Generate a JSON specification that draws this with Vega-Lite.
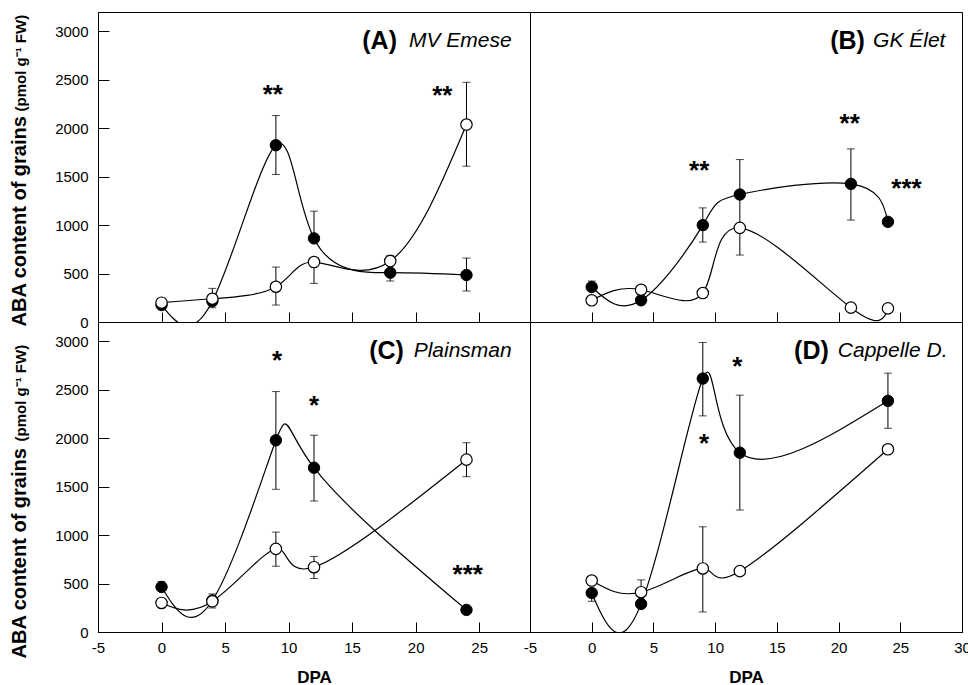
{
  "$schema": "https://vega.github.io/schema/vega-lite/v6.json",
  "background": "white",
  "padding": {"left": 8, "top": 11, "right": 0, "bottom": 0},
  "data": {"values": [
    {"kind":"p","panel":"A","s":"f","dpa":0,"aba":175},
    {"kind":"p","panel":"A","s":"f","dpa":4,"aba":215},
    {"kind":"p","panel":"A","s":"f","dpa":9,"aba":1825},
    {"kind":"p","panel":"A","s":"f","dpa":12,"aba":863},
    {"kind":"p","panel":"A","s":"f","dpa":18,"aba":509},
    {"kind":"p","panel":"A","s":"f","dpa":24,"aba":485},
    {"kind":"p","panel":"A","s":"o","dpa":0,"aba":199},
    {"kind":"p","panel":"A","s":"o","dpa":4,"aba":240},
    {"kind":"p","panel":"A","s":"o","dpa":9,"aba":364},
    {"kind":"p","panel":"A","s":"o","dpa":12,"aba":619},
    {"kind":"p","panel":"A","s":"o","dpa":18,"aba":629},
    {"kind":"p","panel":"A","s":"o","dpa":24,"aba":2038},
    {"kind":"p","panel":"B","s":"f","dpa":0,"aba":361},
    {"kind":"p","panel":"B","s":"f","dpa":4,"aba":224},
    {"kind":"p","panel":"B","s":"f","dpa":9,"aba":1000},
    {"kind":"p","panel":"B","s":"f","dpa":12,"aba":1316},
    {"kind":"p","panel":"B","s":"f","dpa":21,"aba":1426},
    {"kind":"p","panel":"B","s":"f","dpa":24,"aba":1034},
    {"kind":"p","panel":"B","s":"o","dpa":0,"aba":224},
    {"kind":"p","panel":"B","s":"o","dpa":4,"aba":333},
    {"kind":"p","panel":"B","s":"o","dpa":9,"aba":299},
    {"kind":"p","panel":"B","s":"o","dpa":12,"aba":972},
    {"kind":"p","panel":"B","s":"o","dpa":21,"aba":148},
    {"kind":"p","panel":"B","s":"o","dpa":24,"aba":141},
    {"kind":"p","panel":"C","s":"f","dpa":0,"aba":465},
    {"kind":"p","panel":"C","s":"f","dpa":4,"aba":325},
    {"kind":"p","panel":"C","s":"f","dpa":9,"aba":1979},
    {"kind":"p","panel":"C","s":"f","dpa":12,"aba":1696},
    {"kind":"p","panel":"C","s":"f","dpa":24,"aba":228},
    {"kind":"p","panel":"C","s":"o","dpa":0,"aba":300},
    {"kind":"p","panel":"C","s":"o","dpa":4,"aba":317},
    {"kind":"p","panel":"C","s":"o","dpa":9,"aba":858},
    {"kind":"p","panel":"C","s":"o","dpa":12,"aba":669},
    {"kind":"p","panel":"C","s":"o","dpa":24,"aba":1779},
    {"kind":"p","panel":"D","s":"f","dpa":0,"aba":403},
    {"kind":"p","panel":"D","s":"f","dpa":4,"aba":290},
    {"kind":"p","panel":"D","s":"f","dpa":9,"aba":2616},
    {"kind":"p","panel":"D","s":"f","dpa":12,"aba":1851},
    {"kind":"p","panel":"D","s":"f","dpa":24,"aba":2386},
    {"kind":"p","panel":"D","s":"o","dpa":0,"aba":531},
    {"kind":"p","panel":"D","s":"o","dpa":4,"aba":411},
    {"kind":"p","panel":"D","s":"o","dpa":9,"aba":656},
    {"kind":"p","panel":"D","s":"o","dpa":12,"aba":628},
    {"kind":"p","panel":"D","s":"o","dpa":24,"aba":1886},

    {"kind":"e","panel":"A","dpa":4,"aba":147,"hi":347},
    {"kind":"e","panel":"A","dpa":9,"aba":1523,"hi":2131},
    {"kind":"e","panel":"A","dpa":9,"aba":175,"hi":567},
    {"kind":"e","panel":"A","dpa":12,"aba":863,"hi":1144},
    {"kind":"e","panel":"A","dpa":12,"aba":399,"hi":619},
    {"kind":"e","panel":"A","dpa":18,"aba":423,"hi":509},
    {"kind":"e","panel":"A","dpa":18,"aba":629,"hi":688},
    {"kind":"e","panel":"A","dpa":24,"aba":320,"hi":660},
    {"kind":"e","panel":"A","dpa":24,"aba":1608,"hi":2474},
    {"kind":"e","panel":"B","dpa":0,"aba":361,"hi":423},
    {"kind":"e","panel":"B","dpa":9,"aba":825,"hi":1178},
    {"kind":"e","panel":"B","dpa":12,"aba":1000,"hi":1677},
    {"kind":"e","panel":"B","dpa":12,"aba":691,"hi":972},
    {"kind":"e","panel":"B","dpa":21,"aba":1052,"hi":1787},
    {"kind":"e","panel":"C","dpa":0,"aba":465,"hi":520},
    {"kind":"e","panel":"C","dpa":4,"aba":248,"hi":393},
    {"kind":"e","panel":"C","dpa":9,"aba":1473,"hi":2482},
    {"kind":"e","panel":"C","dpa":9,"aba":679,"hi":1031},
    {"kind":"e","panel":"C","dpa":12,"aba":1352,"hi":2031},
    {"kind":"e","panel":"C","dpa":12,"aba":552,"hi":780},
    {"kind":"e","panel":"C","dpa":24,"aba":1603,"hi":1954},
    {"kind":"e","panel":"D","dpa":0,"aba":317,"hi":403},
    {"kind":"e","panel":"D","dpa":4,"aba":411,"hi":538},
    {"kind":"e","panel":"D","dpa":9,"aba":2231,"hi":2989},
    {"kind":"e","panel":"D","dpa":9,"aba":207,"hi":1086},
    {"kind":"e","panel":"D","dpa":12,"aba":1259,"hi":2445},
    {"kind":"e","panel":"D","dpa":24,"aba":2103,"hi":2672},

    {"kind":"c","panel":"A","dpa":4,"aba":147},
    {"kind":"c","panel":"A","dpa":4,"aba":347},
    {"kind":"c","panel":"A","dpa":9,"aba":1523},
    {"kind":"c","panel":"A","dpa":9,"aba":2131},
    {"kind":"c","panel":"A","dpa":9,"aba":175},
    {"kind":"c","panel":"A","dpa":9,"aba":567},
    {"kind":"c","panel":"A","dpa":12,"aba":1144},
    {"kind":"c","panel":"A","dpa":12,"aba":399},
    {"kind":"c","panel":"A","dpa":18,"aba":423},
    {"kind":"c","panel":"A","dpa":18,"aba":688},
    {"kind":"c","panel":"A","dpa":24,"aba":320},
    {"kind":"c","panel":"A","dpa":24,"aba":660},
    {"kind":"c","panel":"A","dpa":24,"aba":1608},
    {"kind":"c","panel":"A","dpa":24,"aba":2474},
    {"kind":"c","panel":"B","dpa":0,"aba":423},
    {"kind":"c","panel":"B","dpa":9,"aba":825},
    {"kind":"c","panel":"B","dpa":9,"aba":1178},
    {"kind":"c","panel":"B","dpa":12,"aba":1677},
    {"kind":"c","panel":"B","dpa":12,"aba":691},
    {"kind":"c","panel":"B","dpa":21,"aba":1052},
    {"kind":"c","panel":"B","dpa":21,"aba":1787},
    {"kind":"c","panel":"C","dpa":0,"aba":520},
    {"kind":"c","panel":"C","dpa":4,"aba":248},
    {"kind":"c","panel":"C","dpa":4,"aba":393},
    {"kind":"c","panel":"C","dpa":9,"aba":1473},
    {"kind":"c","panel":"C","dpa":9,"aba":2482},
    {"kind":"c","panel":"C","dpa":9,"aba":679},
    {"kind":"c","panel":"C","dpa":9,"aba":1031},
    {"kind":"c","panel":"C","dpa":12,"aba":1352},
    {"kind":"c","panel":"C","dpa":12,"aba":2031},
    {"kind":"c","panel":"C","dpa":12,"aba":552},
    {"kind":"c","panel":"C","dpa":12,"aba":780},
    {"kind":"c","panel":"C","dpa":24,"aba":1603},
    {"kind":"c","panel":"C","dpa":24,"aba":1954},
    {"kind":"c","panel":"D","dpa":0,"aba":317},
    {"kind":"c","panel":"D","dpa":4,"aba":538},
    {"kind":"c","panel":"D","dpa":9,"aba":2231},
    {"kind":"c","panel":"D","dpa":9,"aba":2989},
    {"kind":"c","panel":"D","dpa":9,"aba":207},
    {"kind":"c","panel":"D","dpa":9,"aba":1086},
    {"kind":"c","panel":"D","dpa":12,"aba":1259},
    {"kind":"c","panel":"D","dpa":12,"aba":2445},
    {"kind":"c","panel":"D","dpa":24,"aba":2103},
    {"kind":"c","panel":"D","dpa":24,"aba":2672},

    {"kind":"a","panel":"A","dpa":8.76,"aba":2412,"t":"**"},
    {"kind":"a","panel":"A","dpa":22.1,"aba":2402,"t":"**"},
    {"kind":"a","panel":"B","dpa":8.71,"aba":1626,"t":"**"},
    {"kind":"a","panel":"B","dpa":20.9,"aba":2113,"t":"**"},
    {"kind":"a","panel":"B","dpa":25.5,"aba":1443,"t":"***"},
    {"kind":"a","panel":"C","dpa":9.1,"aba":2869,"t":"*"},
    {"kind":"a","panel":"C","dpa":12.0,"aba":2403,"t":"*"},
    {"kind":"a","panel":"C","dpa":24.1,"aba":662,"t":"***"},
    {"kind":"a","panel":"D","dpa":11.8,"aba":2807,"t":"*"},
    {"kind":"a","panel":"D","dpa":9.1,"aba":2013,"t":"*"},

    {"kind":"lb","panel":"A","dpa":18.53,"aba":2900,"t":"(A)"},
    {"kind":"lb","panel":"B","dpa":22.13,"aba":2900,"t":"(B)"},
    {"kind":"lb","panel":"C","dpa":19.08,"aba":2900,"t":"(C)"},
    {"kind":"lb","panel":"D","dpa":19.21,"aba":2900,"t":"(D)"},
    {"kind":"li","panel":"A","dpa":27.56,"aba":2900,"t":"MV Emese"},
    {"kind":"li","panel":"B","dpa":28.66,"aba":2900,"t":"GK Élet"},
    {"kind":"li","panel":"C","dpa":27.56,"aba":2900,"t":"Plainsman"},
    {"kind":"li","panel":"D","dpa":28.83,"aba":2900,"t":"Cappelle D."}
  ]},
  "columns": 2,
  "spacing": 0,
  "bounds": "flush",
  "concat": [
    {
      "width": 432, "height": 310,
      "transform": [{"filter": "datum.panel === 'A'"}],
      "encoding": {
        "x": {"field": "dpa", "type": "quantitative", "scale": {"domain": [-5, 29], "nice": false, "zero": false},
              "axis": {"values": [-5,0,5,10,15,20,25], "labels": false, "title": null}},
        "y": {"field": "aba", "type": "quantitative", "scale": {"domain": [0, 3200], "nice": false}, "axis": null}
      },
      "layer": [
        {"transform": [{"filter": "datum.kind === 'e'"}], "mark": {"type": "rule", "color": "black", "strokeWidth": 1}, "encoding": {"y2": {"field": "hi"}}},
        {"transform": [{"filter": "datum.kind === 'c'"}], "mark": {"type": "tick", "orient": "horizontal", "size": 8, "thickness": 1, "color": "black"}},
        {"transform": [{"filter": "datum.kind === 'p'"}], "mark": {"type": "line", "interpolate": "natural", "color": "black", "strokeWidth": 1.2, "clip": true}, "encoding": {"detail": {"field": "s"}}},
        {"transform": [{"filter": "datum.kind === 'p' && datum.s === 'f'"}], "mark": {"type": "point", "shape": "circle", "filled": true, "fill": "black", "stroke": "black", "strokeWidth": 1, "size": 130, "opacity": 1},
         "encoding": {"y": {"field": "aba", "type": "quantitative", "scale": {"domain": [0, 3200], "nice": false},
           "axis": {"values": [0,500,1000,1500,2000,2500,3000], "labelExpr": "'' + datum.value", "title": "ABA content of grains", "titleFontSize": 20, "titleAngle": -90, "titleAlign": "left", "titleBaseline": "alphabetic", "titleX": -73, "titleY": 314}}}},
        {"transform": [{"filter": "datum.kind === 'p' && datum.s === 'o'"}], "mark": {"type": "point", "shape": "circle", "filled": true, "fill": "white", "stroke": "black", "strokeWidth": 1.2, "size": 130, "opacity": 1}},
        {"transform": [{"filter": "datum.kind === 'a'"}], "mark": {"type": "text", "font": "Liberation Sans", "fontWeight": "bold", "fontSize": 26, "baseline": "alphabetic", "dy": 15, "color": "black"}, "encoding": {"text": {"field": "t"}}},
        {"transform": [{"filter": "datum.kind === 'lb'"}], "mark": {"type": "text", "font": "Liberation Sans", "fontWeight": "bold", "fontSize": 25, "align": "right", "baseline": "middle", "color": "black"}, "encoding": {"text": {"field": "t"}}},
        {"transform": [{"filter": "datum.kind === 'li'"}], "mark": {"type": "text", "font": "Liberation Sans", "fontStyle": "italic", "fontSize": 21, "align": "right", "baseline": "middle", "color": "black"},
         "encoding": {"text": {"field": "t"}, "y": {"field": "aba", "type": "quantitative", "scale": {"domain": [0, 3200], "nice": false},
           "axis": {"orient": "left", "labels": false, "ticks": false, "domain": false, "title": "(pmol g⁻¹ FW)", "titleFontSize": 15, "titleAngle": -90, "titleAlign": "left", "titleBaseline": "alphabetic", "titleX": -73, "titleY": 99}}}}
      ],
      "resolve": {"axis": {"y": "independent"}}
    },
    {
      "width": 432, "height": 310,
      "transform": [{"filter": "datum.panel === 'B'"}],
      "encoding": {
        "x": {"field": "dpa", "type": "quantitative", "scale": {"domain": [-5, 30], "nice": false, "zero": false},
              "axis": {"values": [-5,0,5,10,15,20,25,30], "labels": false, "title": null}},
        "y": {"field": "aba", "type": "quantitative", "scale": {"domain": [0, 3200], "nice": false}, "axis": null}
      },
      "layer": [
        {"transform": [{"filter": "datum.kind === 'e'"}], "mark": {"type": "rule", "color": "black", "strokeWidth": 1}, "encoding": {"y2": {"field": "hi"}}},
        {"transform": [{"filter": "datum.kind === 'c'"}], "mark": {"type": "tick", "orient": "horizontal", "size": 8, "thickness": 1, "color": "black"}},
        {"transform": [{"filter": "datum.kind === 'p'"}], "mark": {"type": "line", "interpolate": "natural", "color": "black", "strokeWidth": 1.2, "clip": true}, "encoding": {"detail": {"field": "s"}}},
        {"transform": [{"filter": "datum.kind === 'p' && datum.s === 'f'"}], "mark": {"type": "point", "shape": "circle", "filled": true, "fill": "black", "stroke": "black", "strokeWidth": 1, "size": 130, "opacity": 1},
         "encoding": {"y": {"field": "aba", "type": "quantitative", "scale": {"domain": [0, 3200], "nice": false},
           "axis": {"values": [0,500,1000,1500,2000,2500,3000], "labels": false, "title": null}}}},
        {"transform": [{"filter": "datum.kind === 'p' && datum.s === 'o'"}], "mark": {"type": "point", "shape": "circle", "filled": true, "fill": "white", "stroke": "black", "strokeWidth": 1.2, "size": 130, "opacity": 1}},
        {"transform": [{"filter": "datum.kind === 'a'"}], "mark": {"type": "text", "font": "Liberation Sans", "fontWeight": "bold", "fontSize": 26, "baseline": "alphabetic", "dy": 15, "color": "black"}, "encoding": {"text": {"field": "t"}}},
        {"transform": [{"filter": "datum.kind === 'lb'"}], "mark": {"type": "text", "font": "Liberation Sans", "fontWeight": "bold", "fontSize": 25, "align": "right", "baseline": "middle", "color": "black"}, "encoding": {"text": {"field": "t"}}},
        {"transform": [{"filter": "datum.kind === 'li'"}], "mark": {"type": "text", "font": "Liberation Sans", "fontStyle": "italic", "fontSize": 21, "align": "right", "baseline": "middle", "color": "black"}, "encoding": {"text": {"field": "t"}}}
      ]
    },
    {
      "width": 432, "height": 310,
      "transform": [{"filter": "datum.panel === 'C'"}],
      "encoding": {
        "x": {"field": "dpa", "type": "quantitative", "scale": {"domain": [-5, 29], "nice": false, "zero": false},
              "axis": {"values": [-5,0,5,10,15,20,25], "labelExpr": "'' + datum.value", "title": "DPA", "titleFontSize": 17, "titlePadding": 14}},
        "y": {"field": "aba", "type": "quantitative", "scale": {"domain": [0, 3200], "nice": false}, "axis": null}
      },
      "layer": [
        {"transform": [{"filter": "datum.kind === 'e'"}], "mark": {"type": "rule", "color": "black", "strokeWidth": 1}, "encoding": {"y2": {"field": "hi"}}},
        {"transform": [{"filter": "datum.kind === 'c'"}], "mark": {"type": "tick", "orient": "horizontal", "size": 8, "thickness": 1, "color": "black"}},
        {"transform": [{"filter": "datum.kind === 'p'"}], "mark": {"type": "line", "interpolate": "natural", "color": "black", "strokeWidth": 1.2, "clip": true}, "encoding": {"detail": {"field": "s"}}},
        {"transform": [{"filter": "datum.kind === 'p' && datum.s === 'f'"}], "mark": {"type": "point", "shape": "circle", "filled": true, "fill": "black", "stroke": "black", "strokeWidth": 1, "size": 130, "opacity": 1},
         "encoding": {"y": {"field": "aba", "type": "quantitative", "scale": {"domain": [0, 3200], "nice": false},
           "axis": {"values": [0,500,1000,1500,2000,2500,3000], "labelExpr": "'' + datum.value", "title": "ABA content of grains", "titleFontSize": 20, "titleAngle": -90, "titleAlign": "left", "titleBaseline": "alphabetic", "titleX": -73, "titleY": 336}}}},
        {"transform": [{"filter": "datum.kind === 'p' && datum.s === 'o'"}], "mark": {"type": "point", "shape": "circle", "filled": true, "fill": "white", "stroke": "black", "strokeWidth": 1.2, "size": 130, "opacity": 1}},
        {"transform": [{"filter": "datum.kind === 'a'"}], "mark": {"type": "text", "font": "Liberation Sans", "fontWeight": "bold", "fontSize": 26, "baseline": "alphabetic", "dy": 15, "color": "black"}, "encoding": {"text": {"field": "t"}}},
        {"transform": [{"filter": "datum.kind === 'lb'"}], "mark": {"type": "text", "font": "Liberation Sans", "fontWeight": "bold", "fontSize": 25, "align": "right", "baseline": "middle", "color": "black"}, "encoding": {"text": {"field": "t"}}},
        {"transform": [{"filter": "datum.kind === 'li'"}], "mark": {"type": "text", "font": "Liberation Sans", "fontStyle": "italic", "fontSize": 21, "align": "right", "baseline": "middle", "color": "black"},
         "encoding": {"text": {"field": "t"}, "y": {"field": "aba", "type": "quantitative", "scale": {"domain": [0, 3200], "nice": false},
           "axis": {"orient": "left", "labels": false, "ticks": false, "domain": false, "title": "(pmol g⁻¹ FW)", "titleFontSize": 15, "titleAngle": -90, "titleAlign": "left", "titleBaseline": "alphabetic", "titleX": -73, "titleY": 119}}}}
      ],
      "resolve": {"axis": {"y": "independent"}}
    },
    {
      "width": 432, "height": 310,
      "transform": [{"filter": "datum.panel === 'D'"}],
      "encoding": {
        "x": {"field": "dpa", "type": "quantitative", "scale": {"domain": [-5, 30], "nice": false, "zero": false},
              "axis": {"values": [-5,0,5,10,15,20,25,30], "labelExpr": "'' + datum.value", "title": "DPA", "titleFontSize": 17, "titlePadding": 14}},
        "y": {"field": "aba", "type": "quantitative", "scale": {"domain": [0, 3200], "nice": false}, "axis": null}
      },
      "layer": [
        {"transform": [{"filter": "datum.kind === 'e'"}], "mark": {"type": "rule", "color": "black", "strokeWidth": 1}, "encoding": {"y2": {"field": "hi"}}},
        {"transform": [{"filter": "datum.kind === 'c'"}], "mark": {"type": "tick", "orient": "horizontal", "size": 8, "thickness": 1, "color": "black"}},
        {"transform": [{"filter": "datum.kind === 'p'"}], "mark": {"type": "line", "interpolate": "natural", "color": "black", "strokeWidth": 1.2, "clip": true}, "encoding": {"detail": {"field": "s"}}},
        {"transform": [{"filter": "datum.kind === 'p' && datum.s === 'f'"}], "mark": {"type": "point", "shape": "circle", "filled": true, "fill": "black", "stroke": "black", "strokeWidth": 1, "size": 130, "opacity": 1},
         "encoding": {"y": {"field": "aba", "type": "quantitative", "scale": {"domain": [0, 3200], "nice": false},
           "axis": {"values": [0,500,1000,1500,2000,2500,3000], "labels": false, "title": null}}}},
        {"transform": [{"filter": "datum.kind === 'p' && datum.s === 'o'"}], "mark": {"type": "point", "shape": "circle", "filled": true, "fill": "white", "stroke": "black", "strokeWidth": 1.2, "size": 130, "opacity": 1}},
        {"transform": [{"filter": "datum.kind === 'a'"}], "mark": {"type": "text", "font": "Liberation Sans", "fontWeight": "bold", "fontSize": 26, "baseline": "alphabetic", "dy": 15, "color": "black"}, "encoding": {"text": {"field": "t"}}},
        {"transform": [{"filter": "datum.kind === 'lb'"}], "mark": {"type": "text", "font": "Liberation Sans", "fontWeight": "bold", "fontSize": 25, "align": "right", "baseline": "middle", "color": "black"}, "encoding": {"text": {"field": "t"}}},
        {"transform": [{"filter": "datum.kind === 'li'"}], "mark": {"type": "text", "font": "Liberation Sans", "fontStyle": "italic", "fontSize": 21, "align": "right", "baseline": "middle", "color": "black"}, "encoding": {"text": {"field": "t"}}}
      ]
    }
  ],
  "config": {
    "view": {"stroke": "black", "strokeWidth": 1},
    "axis": {"labelFont": "Liberation Sans", "labelFontSize": 15, "labelColor": "black", "tickColor": "black", "tickWidth": 1, "domainColor": "black", "domainWidth": 1, "grid": false, "titleFont": "Liberation Sans", "titleColor": "black", "titleFontWeight": "bold", "labelFlush": false},
    "axisX": {"tickSize": -10, "labelPadding": 18},
    "axisY": {"tickSize": -11, "labelPadding": 21}
  }
}
